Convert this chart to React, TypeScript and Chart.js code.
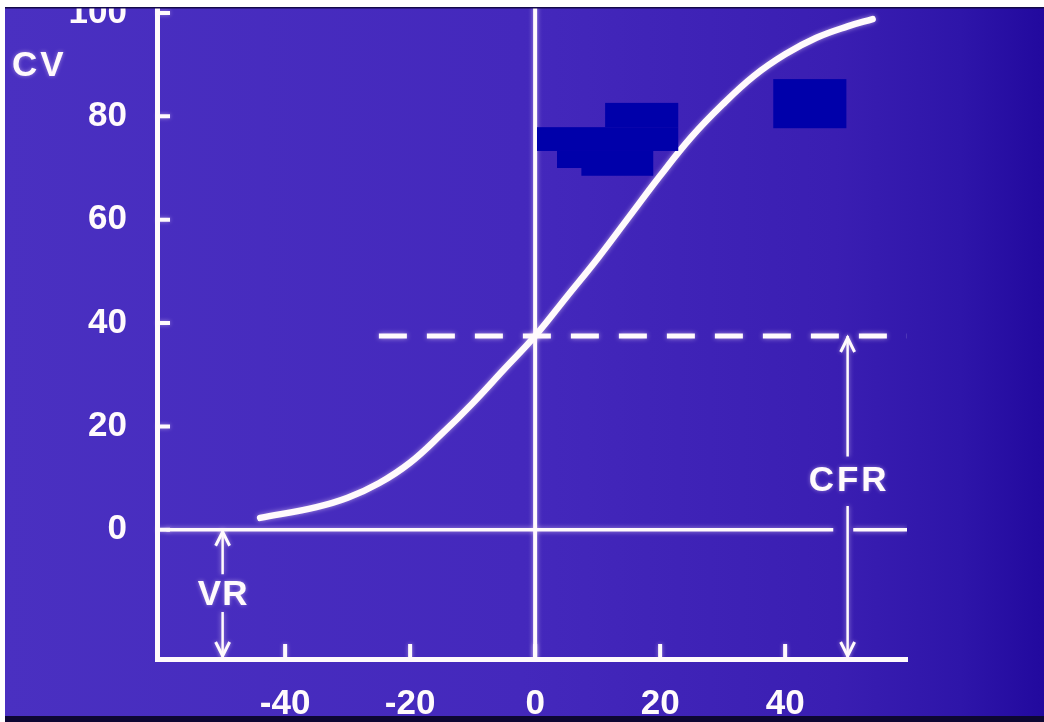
import React, { useEffect, useRef } from "react";
import { Chart, registerables } from "chart.js";

Chart.register(...registerables);

// ---- data ----
const curveX = [-44, -35, -30, -25, -20, -15, -10, -5, 0, 5, 10, 15, 20, 25, 30, 35, 40, 45, 50, 54];
const curveY = [2.3, 4.4, 6.2, 9, 13, 18.5, 24.5, 31, 37.5, 45, 52.5, 60.5, 68.5, 76, 82.3, 87.8, 92, 95.2, 97.4, 98.8];
const xTicks = [-40, -20, 0, 20, 40];
const xTickLabels = ["-40", "-20", "0", "20", "40"];
const yTicks = [0, 20, 40, 60, 80, 100];
const yTickLabels = ["0", "20", "40", "60", "80", "100"];
const cfrLevel = 37.5;
const dashFromX = -25;
const vrX = -50;
const cfrX = 50;
const xRange = [-60.5, 59.5];
const yRange = [-25, 101.5];
const baselineX = [-59, 47.7, 50.9, 59.5];
const vrGap = [-8.6, -15.9];
const cfrGap = [14.2, 4.6];
const textLabels = [
  { text: "VR", x: vrX, y: -12.6, spacing: 1 },
  { text: "CFR", x: cfrX, y: 9.4, spacing: 3 },
];
const yTitle = { text: "CV", y: 89.6 };
// masked (redacted) areas on the slide, in data units [x1, y1, x2, y2]
const masks = [
  [11.2, 82.6, 22.9, 77.9],
  [0.3, 77.9, 22.9, 73.3],
  [3.5, 73.3, 18.9, 70.0],
  [7.4, 70.0, 18.9, 68.5],
  [38.1, 87.2, 49.8, 77.7],
];

const WHITE = "#fffafc";
const FONT = "'Liberation Sans', Arial, sans-serif";

function arrowHead(ctx: CanvasRenderingContext2D, px: number, py: number, dir: number) {
  // dir = -1 points up, 1 points down
  ctx.beginPath();
  ctx.moveTo(px - 7, py - dir * 14);
  ctx.lineTo(px, py);
  ctx.lineTo(px + 7, py - dir * 14);
  ctx.stroke();
}

const deco = {
  id: "deco",
  beforeDraw(chart: any) {
    const { ctx, width, height } = chart;
    const g = ctx.createLinearGradient(0, 0, width, 0);
    g.addColorStop(0, "#4a30c1");
    g.addColorStop(0.5, "#4428bc");
    g.addColorStop(0.8, "#3a1eb2");
    g.addColorStop(0.92, "#2e15a9");
    g.addColorStop(1, "#22099e");
    ctx.save();
    ctx.fillStyle = g;
    ctx.fillRect(0, 0, width, height);
    ctx.restore();
  },
  beforeDatasetsDraw(chart: any) {
    const { ctx } = chart;
    ctx.save();
    ctx.shadowColor = "rgba(255,235,255,0.55)";
    ctx.shadowBlur = 5;
  },
  afterDatasetsDraw(chart: any) {
    const { ctx } = chart;
    ctx.restore();
    const x = chart.scales.x;
    const y = chart.scales.y;
    ctx.save();
    ctx.shadowColor = "rgba(255,235,255,0.45)";
    ctx.shadowBlur = 4;
    ctx.strokeStyle = WHITE;
    ctx.fillStyle = WHITE;
    // inward tick marks
    ctx.lineWidth = 4;
    ctx.beginPath();
    yTicks.forEach((v) => {
      const py = y.getPixelForValue(v);
      ctx.moveTo(x.left, py);
      ctx.lineTo(x.left + 13, py);
    });
    xTicks.forEach((v) => {
      const px = x.getPixelForValue(v);
      ctx.moveTo(px, y.bottom);
      ctx.lineTo(px, y.bottom - 15);
    });
    ctx.stroke();
    // arrow heads
    ctx.lineWidth = 3;
    ctx.lineJoin = "miter";
    arrowHead(ctx, x.getPixelForValue(vrX), y.getPixelForValue(0) + 2, -1);
    arrowHead(ctx, x.getPixelForValue(vrX), y.getPixelForValue(yRange[0]) - 3, 1);
    arrowHead(ctx, x.getPixelForValue(cfrX), y.getPixelForValue(cfrLevel) + 2, -1);
    arrowHead(ctx, x.getPixelForValue(cfrX), y.getPixelForValue(yRange[0]) - 3, 1);
    // texts
    ctx.font = `bold 35px ${FONT}`;
    ctx.textAlign = "center";
    ctx.textBaseline = "middle";
    textLabels.forEach((t) => {
      (ctx as any).letterSpacing = `${t.spacing}px`;
      ctx.fillText(t.text, x.getPixelForValue(t.x) + t.spacing / 2, y.getPixelForValue(t.y));
    });
    (ctx as any).letterSpacing = "3px";
    ctx.textAlign = "left";
    ctx.fillText(yTitle.text, 12, y.getPixelForValue(yTitle.y));
    (ctx as any).letterSpacing = "0px";
    ctx.shadowBlur = 0;
    ctx.shadowColor = "transparent";
    // masks
    ctx.fillStyle = "#0000aa";
    masks.forEach(([x1, y1, x2, y2]) => {
      const a = x.getPixelForValue(x1);
      const b = y.getPixelForValue(y1);
      const c = x.getPixelForValue(x2);
      const d = y.getPixelForValue(y2);
      ctx.fillRect(a, b, c - a, d - b);
    });
    ctx.restore();
  },
  afterDraw(chart: any) {
    const { ctx, width, height } = chart;
    ctx.save();
    ctx.fillStyle = "#ffffff";
    ctx.fillRect(0, 0, width, 7);
    ctx.fillRect(0, 0, 5, height);
    ctx.fillStyle = "#140a4a";
    ctx.fillRect(5, 7, width - 5, 1.5);
    ctx.fillStyle = "#0d0733";
    ctx.fillRect(5, 716, width - 5, height - 716);
    ctx.restore();
  },
};

export default function App() {
  const ref = useRef<HTMLCanvasElement>(null);
  useEffect(() => {
    document.body.style.margin = "0";
    const canvas = ref.current!;
    const curve = curveX.map((v, i) => ({ x: v, y: curveY[i] }));
    const line = (data: any[], extra: any = {}) => ({
      type: "line" as const,
      data,
      borderColor: WHITE,
      borderWidth: 3.5,
      pointRadius: 0,
      fill: false,
      tension: 0,
      spanGaps: false,
      ...extra,
    });
    const chart = new Chart(canvas, {
      type: "line",
      data: {
        datasets: [
          line(curve, { borderWidth: 6.5, tension: 0.4, borderCapStyle: "round" }),
          line([
            { x: dashFromX, y: cfrLevel },
            { x: xRange[1], y: cfrLevel },
          ], { borderWidth: 5, borderDash: [28, 20] }),
          line([
            { x: baselineX[0], y: 0 },
            { x: baselineX[1], y: 0 },
            { x: (baselineX[1] + baselineX[2]) / 2, y: null },
            { x: baselineX[2], y: 0 },
            { x: baselineX[3], y: 0 },
          ]),
          line([
            { x: 0, y: yRange[0] },
            { x: 0, y: yRange[1] },
          ], { borderWidth: 4 }),
          line([
            { x: vrX, y: 0 },
            { x: vrX, y: vrGap[0] },
            { x: vrX, y: null },
            { x: vrX, y: vrGap[1] },
            { x: vrX, y: yRange[0] },
          ], { borderWidth: 2.5 }),
          line([
            { x: cfrX, y: cfrLevel },
            { x: cfrX, y: cfrGap[0] },
            { x: cfrX, y: null },
            { x: cfrX, y: cfrGap[1] },
            { x: cfrX, y: yRange[0] },
          ], { borderWidth: 2.5 }),
        ],
      },
      options: {
        animation: false,
        responsive: false,
        devicePixelRatio: 1,
        events: [],
        layout: { padding: { top: 5.2, right: 137, left: 0, bottom: 0 } },
        plugins: { legend: { display: false }, tooltip: { enabled: false } },
        scales: {
          x: {
            type: "linear",
            min: xRange[0],
            max: xRange[1],
            grid: { display: false, drawTicks: false },
            border: { display: true, color: WHITE, width: 5 },
            afterBuildTicks: (s: any) => {
              s.ticks = xTicks.map((v) => ({ value: v }));
            },
            afterFit: (s: any) => {
              s.height = 63;
              s.paddingLeft = 0;
              s.paddingRight = 0;
            },
            ticks: {
              color: WHITE,
              padding: 24,
              maxRotation: 0,
              autoSkip: false,
              font: { family: FONT, weight: "bold", size: 35 },
              callback: (v: any) => xTickLabels[xTicks.indexOf(Number(v))] ?? "",
            },
          },
          y: {
            type: "linear",
            min: yRange[0],
            max: yRange[1],
            grid: { display: false, drawTicks: false },
            border: { display: true, color: WHITE, width: 5 },
            afterBuildTicks: (s: any) => {
              s.ticks = yTicks.map((v) => ({ value: v }));
            },
            afterFit: (s: any) => {
              s.width = 157;
              s.paddingTop = 0;
              s.paddingBottom = 0;
            },
            ticks: {
              color: WHITE,
              padding: 30,
              autoSkip: false,
              font: { family: FONT, weight: "bold", size: 35 },
              callback: (v: any) => yTickLabels[yTicks.indexOf(Number(v))] ?? "",
            },
          },
        },
      },
      plugins: [deco],
    });
    return () => chart.destroy();
  }, []);
  return (
    <canvas
      ref={ref}
      width={1044}
      height={722}
      style={{ display: "block", width: 1044, height: 722 }}
    />
  );
}
